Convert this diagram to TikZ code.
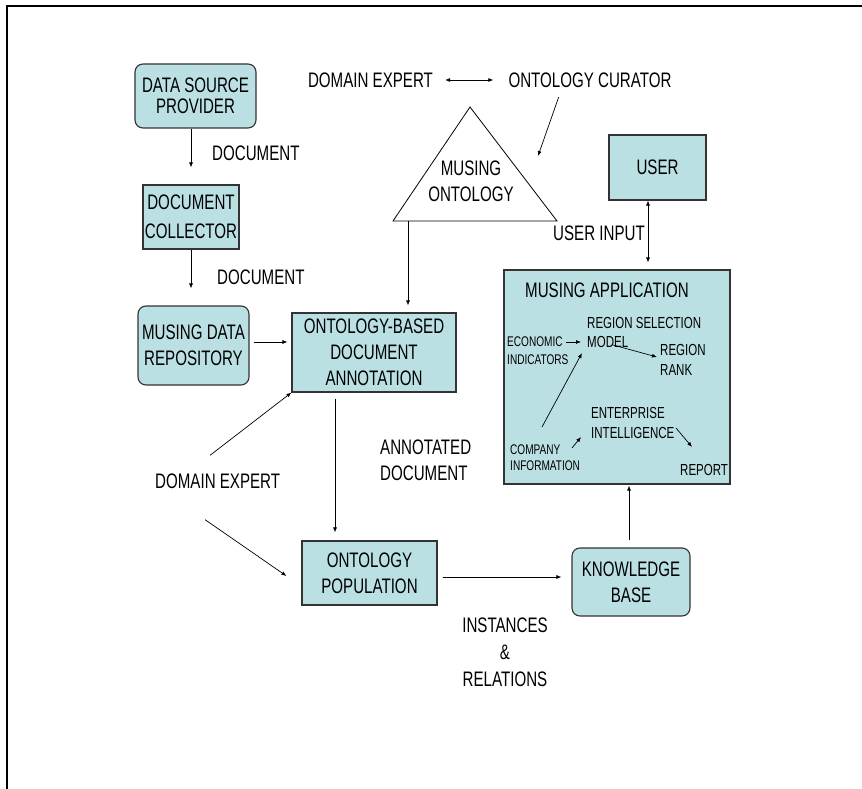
\documentclass[tikz,border=0pt]{standalone}
\usepackage{fontspec}
\setmainfont{Liberation Sans}[FakeStretch=0.72]
\usetikzlibrary{arrows.meta, shapes}

\definecolor{boxfill}{RGB}{187,224,227}
\tikzset{
  box/.style={draw=black!80, line width=1.1pt, fill=boxfill, align=center, inner sep=1pt},
  rbox/.style={box, rounded corners=8pt},
  lbl/.style={inner sep=0pt},
  small/.style={inner sep=0pt, align=left},
  arr/.style={-{Latex[length=5pt,width=4pt]}, line width=0.7pt},
  arrr/.style={{Latex[length=5pt,width=4pt]}-{Latex[length=5pt,width=4pt]}, line width=0.7pt}
}

\begin{document}
\begin{tikzpicture}[x=1pt, y=-1pt, font=\fontsize{21}{26}\selectfont]
\useasboundingbox (0,0) rectangle (862,789);
\draw[line width=2pt] (7,789) -- (7,6) -- (862,6);

% left column
\node[rbox, minimum width=121pt, minimum height=64pt, font=\fontsize{21}{21}\selectfont] (dsp) at (195.5,96) {DATA SOURCE\\PROVIDER};
\node[box, minimum width=96pt, minimum height=64pt, font=\fontsize{21}{29}\selectfont] (dc) at (191,217) {DOCUMENT\\COLLECTOR};
\node[rbox, minimum width=111pt, minimum height=79pt] (mdr) at (193.5,345.5) {MUSING DATA\\REPOSITORY};
\node[lbl, anchor=west] (doc1) at (212,153) {DOCUMENT};
\node[lbl, anchor=west] (doc2) at (217,277) {DOCUMENT};

% middle
\node[box, minimum width=164pt, minimum height=79pt] (oba) at (374,352.5) {ONTOLOGY-BASED\\DOCUMENT\\ANNOTATION};
\node[box, minimum width=135pt, minimum height=64pt] (op) at (369.5,573) {ONTOLOGY\\POPULATION};
\node[lbl, anchor=west, align=left] (ad) at (380,460) {ANNOTATED\\DOCUMENT};
\node[lbl, anchor=west] (de2) at (155,481) {DOMAIN EXPERT};
\node[lbl, align=center, font=\fontsize{21}{27}\selectfont] (ir) at (505,652) {INSTANCES\\\&\\RELATIONS};

% ontology
\coordinate (t1) at (470,107);
\coordinate (t2) at (557,221);
\coordinate (t3) at (393,221);
\draw[line width=0.8pt] (t1) -- (t2) -- (t3) -- cycle;
\node[lbl, align=center] (onto) at (471,181) {MUSING\\ONTOLOGY};
\node[lbl] (de1) at (370.5,80) {DOMAIN EXPERT};
\node[lbl] (oc) at (590,80) {ONTOLOGY CURATOR};
\coordinate (ontoin) at (538,156);
\coordinate (ontob) at (408,221);

% right side
\node[box, minimum width=97pt, minimum height=65pt] (user) at (657.5,167.5) {USER};
\node[lbl, anchor=east] (ui) at (645,233) {USER INPUT};
\node[box, minimum width=226pt, minimum height=214pt] (app) at (617,377) {};
\node[rbox, minimum width=118pt, minimum height=68pt] (kb) at (631,582) {KNOWLEDGE\\BASE};

% inside the application
\node[lbl, anchor=west] (appt) at (525,290) {MUSING APPLICATION};
\node[small, anchor=west, font=\fontsize{16}{19}\selectfont] (rsm) at (587,332.5) {REGION SELECTION\\MODEL};
\node[small, anchor=west, font=\fontsize{14}{18}\selectfont] (eco) at (507,351) {ECONOMIC\\INDICATORS};
\node[small, anchor=west, font=\fontsize{16}{20}\selectfont] (rr) at (660,360) {REGION\\RANK};
\node[small, anchor=west, font=\fontsize{16}{20}\selectfont] (ei) at (591,423) {ENTERPRISE\\INTELLIGENCE};
\node[small, anchor=west, font=\fontsize{14}{16}\selectfont] (ci) at (510,458) {COMPANY\\INFORMATION};
\node[small, anchor=west, font=\fontsize{16}{20}\selectfont] (rep) at (680,470) {REPORT};

% connectors
\draw[arr, shorten >=17pt] (dsp.south -| dc) -- (dc);
\draw[arr, shorten >=17pt] (dc) -- (mdr.north -| dc);
\draw[arr, shorten <=4pt, shorten >=4pt] ([yshift=3.5pt]mdr.east) -- ([yshift=10.5pt]oba.west);
\draw[arr, shorten >=7pt] (ontob) -- (oba.north -| ontob);
\draw[arr, shorten <=6pt, shorten >=8pt] ([xshift=-39pt]oba.south) -- ([xshift=-34.5pt]op.north);
\draw[arr] ([shift={(55pt,18pt)}]de2.north west) -- (oba.south west);
\draw[arr] ([shift={(50pt,-31pt)}]de2.south west) -- ([shift={(-15pt,-3pt)}]op.west);
\draw[arr, shorten <=5pt, shorten >=10pt] ([yshift=-4pt]op.east) -- ([yshift=5pt]kb.west);
\draw[arr, shorten <=7pt, shorten >=1pt] ([xshift=-2pt]kb.north) -- ([xshift=12pt]app.south);
\draw[arrr, shorten >=7pt] ([xshift=-9.5pt]user.south) -- ([xshift=31pt]app.north);
\draw[arrr, shorten <=12pt, shorten >=15pt] (de1) -- (oc);
\draw[arr, shorten <=10pt] ([xshift=-28pt]oc.south) -- (ontoin);

\draw[arr] ([shift={(-3pt,9pt)}]eco.east) -- ([shift={(-6pt,-9.5pt)}]rsm.west);
\draw[arr] ([shift={(26pt,-12.5pt)}]rsm.west) -- ([shift={(-3pt,3pt)}]rr.west);
\draw[arr] ([shift={(32pt,31pt)}]ci.west) -- ([shift={(-5pt,-20.5pt)}]rsm.west);
\draw[arr] ([shift={(62pt,10pt)}]ci.west) -- ([shift={(-10pt,-14pt)}]ei.west);
\draw[arr] ([shift={(85pt,-5pt)}]ei.west) -- ([shift={(12pt,23pt)}]rep.west);
\end{tikzpicture}
\end{document}
